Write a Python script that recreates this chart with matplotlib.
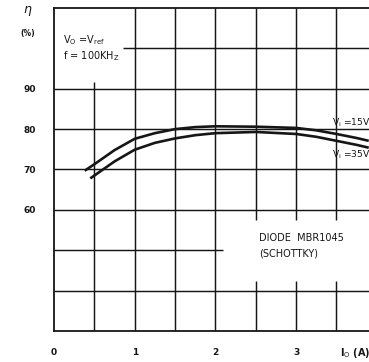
import matplotlib
matplotlib.use("Agg")
import matplotlib.pyplot as plt
import numpy as np

# Output current Io (A) and efficiency eta (%) for the two input voltages
io_15 = [0.38, 0.5, 0.75, 1.0, 1.25, 1.5, 1.75, 2.0, 2.5, 3.0, 3.25, 3.5, 3.75, 3.9]
eta_15 = [69.7, 71.3, 74.8, 77.6, 79.0, 80.0, 80.5, 80.7, 80.6, 80.3, 79.7, 78.8, 77.8, 77.1]

io_35 = [0.45, 0.5, 0.75, 1.0, 1.25, 1.5, 1.75, 2.0, 2.5, 3.0, 3.25, 3.5, 3.75, 3.9]
eta_35 = [67.8, 68.5, 72.0, 74.9, 76.6, 77.7, 78.5, 79.0, 79.3, 78.8, 78.1, 77.1, 76.1, 75.4]

x_ticks = [0, 1, 2, 3]
x_tick_labels = ["0", "1", "2", "3"]
y_ticks = [60, 70, 80, 90]
y_tick_labels = ["60", "70", "80", "90"]

W, H = 369, 362
fig = plt.figure(figsize=(W / 100, H / 100), dpi=100)
fig.patch.set_facecolor("white")
ax = fig.add_axes([54 / W, 31 / H, (W - 54) / W, (331 - 8) / H])
ax.set_xlim(0, (W - 54) / 80.7)
ax.set_ylim(30, 110)

ink = "#161616"
for side in ("left", "bottom", "top"):
    ax.spines[side].set_color(ink)
    ax.spines[side].set_linewidth(1.3)
ax.spines["right"].set_visible(False)

# Grid, with the gaps left around the annotations
gw = 1.05
ax.vlines(0.5, 30, 91.7, color=ink, lw=gw)
for xv in (1.0, 1.5, 2.0):
    ax.vlines(xv, 30, 110, color=ink, lw=gw)
for xv in (2.5, 3.0, 3.5):
    ax.vlines(xv, 30, 42.5, color=ink, lw=gw)
    ax.vlines(xv, 57.5, 110, color=ink, lw=gw)
xmax = ax.get_xlim()[1]
for yv in (40, 60, 70, 80, 90):
    ax.hlines(yv, 0, xmax, color=ink, lw=gw)
ax.hlines(100, 0.86, xmax, color=ink, lw=gw)
ax.hlines(50, 0, 2.1, color=ink, lw=gw)

# Efficiency curves
ax.plot(io_15, eta_15, color=ink, lw=1.9, solid_capstyle="butt", clip_on=True)
ax.plot(io_35, eta_35, color=ink, lw=1.9, solid_capstyle="butt", clip_on=True)

ax.set_xticks(x_ticks)
ax.set_xticklabels(x_tick_labels, fontsize=6.5, fontweight="bold", color=ink)
ax.set_yticks(y_ticks)
ax.set_yticklabels(y_tick_labels, fontsize=6.5, fontweight="bold", color=ink)
ax.tick_params(axis="both", length=0)
ax.tick_params(axis="x", pad=12)
ax.tick_params(axis="y", pad=13)

txt = dict(color=ink, fontsize=7)
ax.text(-0.32, 109.2, r"$\eta$", ha="center", va="center", clip_on=False,
        color=ink, fontsize=9)
ax.text(-0.32, 103.8, "(%)", ha="center", va="center", clip_on=False,
        color=ink, fontsize=5.5, fontweight="bold")
ax.text(0.11, 102.1, r"V$_\mathrm{O}$ =V$_\mathrm{ref}$", ha="left", va="center", **txt)
ax.text(0.11, 98.2, r"f = 100KH$_\mathrm{Z}$", ha="left", va="center", **txt)
vi = dict(color=ink, fontsize=6.6)
ax.text(3.44, 81.6, r"V$_\mathrm{i}$ =15V", ha="left", va="center", **vi)
ax.text(3.44, 73.6, r"V$_\mathrm{i}$ =35V", ha="left", va="center", **vi)
ax.text(2.54, 53.1, "DIODE  MBR1045", ha="left", va="center",
        color=ink, fontsize=7)
ax.text(2.54, 49.1, "(SCHOTTKY)", ha="left", va="center",
        color=ink, fontsize=7)
ax.text(3.54, 24.5, r"I$_\mathrm{O}$ (A)", ha="left", va="center",
        clip_on=False, color=ink, fontsize=7, fontweight="bold")

fig.savefig("out.png", dpi=100, facecolor="white")
